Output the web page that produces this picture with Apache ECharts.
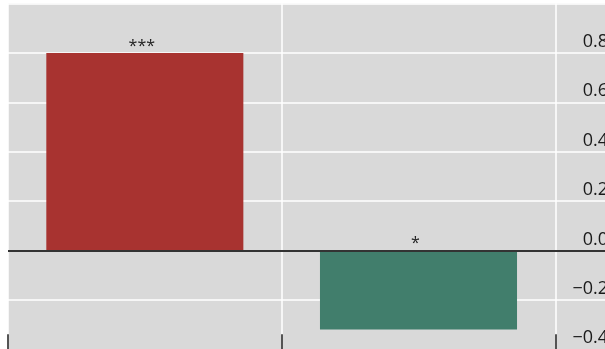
<!DOCTYPE html>
<html>
<head>
<meta charset="utf-8">
<script src="https://cdn.jsdelivr.net/npm/echarts@6/dist/echarts.min.js"></script>
<style>
  html, body { margin: 0; padding: 0; background: #ffffff; }
  #chart { width: 605px; height: 349px; }
</style>
</head>
<body>
<div id="chart"></div>
<script>
// Two estimated effects with significance stars; a third, empty slot keeps the panel width.
const categories = ['Group A', 'Group B', ''];
const effects = [0.80, -0.32, '-'];
const significance = ['***', '*', ''];
const barColors = ['#a83330', '#417e6c', '#999999'];

// Value axis ticks
const yMin = -0.4;
const yMax = 1.0;
const yStep = 0.2;

const chart = echarts.init(document.getElementById('chart'), null, { renderer: 'canvas' });

const fmt = v => (v < 0 ? '\u2212' : '') + Math.abs(v).toFixed(1);

chart.setOption({
  animation: false,
  grid: {
    show: true,
    left: 8,
    top: 3.6,
    width: 821,
    height: 345.7,
    outerBoundsMode: 'none',
    containLabel: false,
    backgroundColor: '#d9d9d9',
    borderWidth: 0
  },
  xAxis: {
    type: 'category',
    data: categories,
    position: 'bottom',
    axisLine: { show: false, onZero: false },
    axisTick: {
      show: true,
      inside: true,
      length: 15,
      lineStyle: { color: '#2b2b2b', width: 1.6 }
    },
    axisLabel: { show: false },
    splitLine: { show: true, lineStyle: { color: '#ffffff', width: 1.5 } }
  },
  yAxis: {
    type: 'value',
    min: yMin,
    max: yMax,
    interval: yStep,
    position: 'right',
    offset: -221,
    axisLine: { show: false },
    axisTick: { show: false },
    axisLabel: {
      margin: 0,
      align: 'right',
      verticalAlign: 'bottom',
      padding: [0, 0, 2, 0],
      fontFamily: 'Open Sans',
      fontSize: 18,
      lineHeight: 18,
      color: '#1a1a1a',
      formatter: fmt
    },
    splitLine: { show: true, lineStyle: { color: '#ffffff', width: 1.5 } }
  },
  series: [{
    type: 'bar',
    barWidth: '72%',
    data: effects.map((v, i) => ({
      value: v,
      itemStyle: { color: barColors[i] },
      label: { formatter: significance[i] }
    })),
    label: {
      show: true,
      position: 'top',
      distance: -1,
      offset: [-3, 0],
      fontFamily: 'Open Sans',
      fontSize: 16,
      color: '#222222'
    },
    markLine: {
      silent: true,
      symbol: 'none',
      label: { show: false },
      lineStyle: { color: '#333333', width: 2, type: 'solid' },
      data: [{ yAxis: 0 }]
    }
  }]
});
</script>
</body>
</html>
